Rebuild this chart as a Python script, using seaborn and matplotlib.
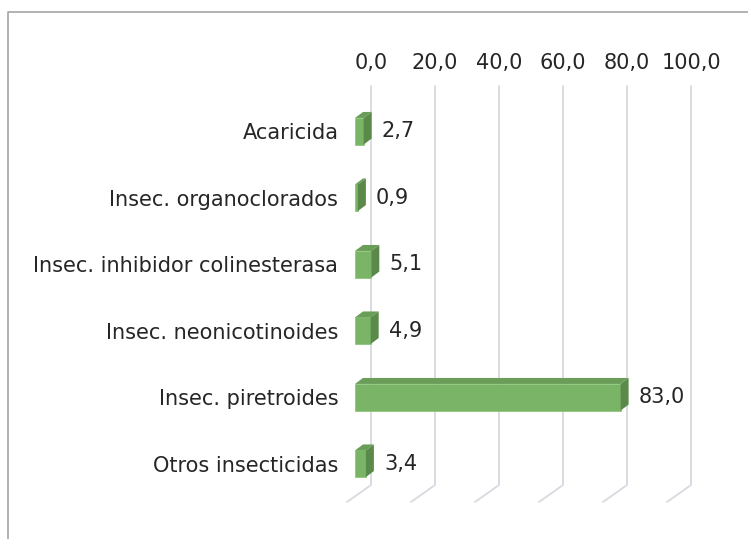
import matplotlib
matplotlib.use("Agg")
import matplotlib.pyplot as plt
import matplotlib.transforms as mtransforms
from matplotlib.patches import Polygon
from matplotlib.lines import Line2D
import seaborn as sns
import pandas as pd

# datos (porcentaje)
categorias = ["Acaricida", "Insec. organoclorados", "Insec. inhibidor colinesterasa",
              "Insec. neonicotinoides", "Insec. piretroides", "Otros insecticidas"]
valores = [2.7, 0.9, 5.1, 4.9, 83.0, 3.4]
ticks = [0, 20, 40, 60, 80, 100]

df = pd.DataFrame({"categoria": categorias, "valor": valores})

sns.set_style("white")
plt.rcParams["font.family"] = ["DejaVu Sans"]

c_frente = "#7ab567"
c_arriba = "#6a9e58"
c_lado = "#5a894a"
c_texto = "#262626"
c_grid = "#d6d9de"
fs = 15

fig = plt.figure(figsize=(7.48, 5.39), dpi=100)
ax = fig.add_axes([355 / 748, 42 / 539, 320 / 748, 399 / 539])

sns.barplot(data=df, x="valor", y="categoria", orient="h", color=c_frente,
            saturation=1, width=0.4, ax=ax, zorder=3,
            edgecolor="#8fc67d", linewidth=0.6)
ax.set_xlim(0, 100)
ax.set_ylim(5.5, -0.5)

inv = ax.transData.inverted()


def mover(x, y, dx, dy):
    # desplaza un punto en pixeles y lo devuelve en unidades de datos
    px, py = ax.transData.transform((x, y))
    return inv.transform((px + dx, py + dy))


# caras superior y lateral de las barras (efecto 3D)
prof = (8, 6)
for p in list(ax.patches):
    x0, y0 = p.get_x(), p.get_y()
    w, h = p.get_width(), p.get_height()
    arriba = y0  # eje invertido
    abajo = y0 + h
    x1 = x0 + w
    cara_sup = [(x0, arriba), (x1, arriba), tuple(mover(x1, arriba, *prof)), tuple(mover(x0, arriba, *prof))]
    cara_lat = [(x1, arriba), (x1, abajo), tuple(mover(x1, abajo, *prof)), tuple(mover(x1, arriba, *prof))]
    ax.add_patch(Polygon(cara_sup, closed=True, facecolor=c_arriba, edgecolor="none", zorder=3))
    ax.add_patch(Polygon(cara_lat, closed=True, facecolor=c_lado, edgecolor="none", zorder=3))

# lineas de division (pared del fondo + piso)
fondo = (16, 12)
piso = (-8, -5)
for t in ticks:
    a = mover(t, -0.5, *fondo)
    b = mover(t, 5.5, *fondo)
    c = mover(t, 5.5, *piso)
    ax.add_line(Line2D([a[0], b[0], c[0]], [a[1], b[1], c[1]], color=c_grid,
                       linewidth=1.3, zorder=1, clip_on=False))

# etiquetas de datos
for i, v in enumerate(valores):
    ax.annotate(f"{v:.1f}".replace(".", ","), xy=(v, i), xytext=(13, 0),
                textcoords="offset points", va="center", ha="left",
                fontsize=fs, color=c_texto, zorder=4)

ax.xaxis.tick_top()
ax.set_xticks(ticks)
ax.set_xticklabels([f"{t:.1f}".replace(".", ",") for t in ticks])
ax.tick_params(axis="x", length=0, pad=18, labelsize=fs, labelcolor=c_texto)
ax.tick_params(axis="y", length=0, pad=12, labelsize=fs, labelcolor=c_texto)
desp = mtransforms.ScaledTranslation(16 / 100, 0, fig.dpi_scale_trans)
for lab in ax.get_xticklabels():
    lab.set_transform(lab.get_transform() + desp)

ax.set_xlabel("")
ax.set_ylabel("")
ax.grid(False)
for s in ax.spines.values():
    s.set_visible(False)

# marco del grafico
fig.add_artist(Line2D([8 / 748, 8 / 748, 1], [0, 1 - 12 / 539, 1 - 12 / 539],
                      transform=fig.transFigure, color="#a6a6a6", linewidth=1.2))

fig.savefig("out.png", dpi=100)
